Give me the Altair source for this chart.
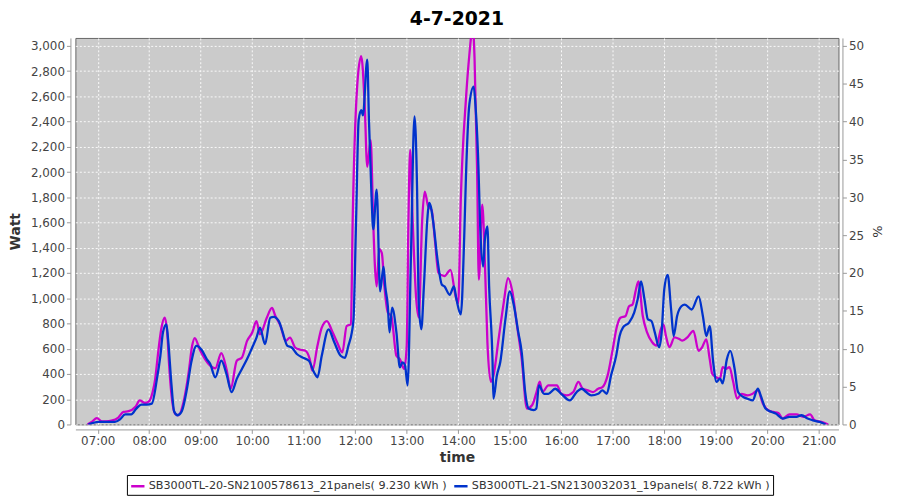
import altair as alt
import pandas as pd

DAY = "2021-07-04"

s1_name = "SB3000TL-20-SN2100578613_21panels( 9.230 kWh )"
s2_name = "SB3000TL-21-SN2130032031_19panels( 8.722 kWh )"

s1_times = ["06:48","06:53","06:59","07:05","07:10","07:16","07:24","07:30","07:36","07:44","07:49","07:55",
            "08:00","08:04","08:07","08:10","08:14","08:18","08:21","08:23","08:26","08:30","08:34","08:40",
            "08:46","08:50","08:53","08:59","09:05","09:11","09:17","09:24","09:30","09:35","09:42","09:48",
            "09:54","10:00","10:05","10:09","10:17","10:23","10:27","10:33","10:39","10:44","10:50","10:56",
            "11:02","11:07","11:10","11:16","11:21","11:27","11:33","11:39","11:45","11:50","11:55","11:57",
            "12:03","12:07","12:11","12:14","12:18","12:21","12:23","12:25","12:28","12:31","12:34","12:38",
            "12:42","12:48","12:52","12:57","13:00","13:02","13:04","13:07","13:11","13:14","13:18","13:21",
            "13:25","13:29","13:33","13:37","13:44","13:51","13:57","14:00","14:03","14:09","14:13","14:17",
            "14:19","14:22","14:24","14:28","14:31","14:34","14:38","14:41","14:47","14:53","14:58","15:03",
            "15:08","15:14","15:20","15:26","15:31","15:35","15:38","15:45","15:55","16:00","16:06","16:14",
            "16:20","16:25","16:31","16:37","16:43","16:48","16:54","17:00","17:05","17:09","17:15","17:19",
            "17:23","17:27","17:30","17:35","17:40","17:46","17:51","17:56","17:59","18:02","18:06","18:12",
            "18:18","18:21","18:27","18:34","18:40","18:44","18:49","18:53","18:56","19:01","19:05","19:08",
            "19:12","19:16","19:20","19:25","19:30","19:37","19:43","19:49","19:55","20:01","20:07","20:13",
            "20:18","20:26","20:34","20:42","20:50","20:55","21:03","21:11"]
s1_watt = [0,20,50,25,25,30,55,100,105,140,190,170,
           185,257,361,544,754,846,728,492,230,86,73,178,
           414,623,685,592,518,466,445,565,440,285,505,530,
           662,728,819,714,846,924,859,780,662,688,610,592,
           584,518,427,623,767,819,741,649,571,780,793,1600,
           2749,2919,2540,2042,2254,1600,1250,1094,1390,1358,1094,887,
           860,544,518,440,623,1618,2175,1600,1000,848,1618,1845,
           1728,1700,1450,1200,1176,1225,1015,960,1782,2578,2932,3150,
           2906,2018,1147,1743,1300,651,338,387,675,964,1160,1055,
           807,518,126,152,250,340,257,309,309,243,230,257,
           337,283,270,257,283,296,387,597,780,846,860,937,
           950,1068,1133,860,730,651,625,754,793,701,612,690,
           675,664,690,741,583,610,675,518,400,373,364,455,
           440,455,348,204,243,230,243,270,165,113,99,90,
           47,80,80,60,80,33,20,0]

s2_times = ["06:49","07:01","07:12","07:20","07:26","07:32","07:39","07:45","07:51","07:57","08:03","08:09",
            "08:13","08:16","08:20","08:22","08:26","08:29","08:33","08:38","08:44","08:49","08:55","09:01",
            "09:07","09:11","09:17","09:24","09:30","09:36","09:42","09:48","09:54","10:00","10:05","10:09",
            "10:15","10:21","10:25","10:31","10:35","10:41","10:46","10:52","10:58","11:06","11:12","11:16",
            "11:21","11:29","11:35","11:43","11:48","11:52","11:56","11:58","12:01","12:04","12:07","12:09",
            "12:14","12:16","12:19","12:21","12:25","12:29","12:33","12:35","12:38","12:40","12:43","12:48",
            "12:52","12:55","12:58","13:01","13:05","13:09","13:12","13:14","13:17","13:20","13:24","13:26",
            "13:28","13:31","13:36","13:41","13:44","13:50","13:55","13:58","14:03","14:07","14:09","14:13",
            "14:18","14:20","14:23","14:26","14:29","14:31","14:34","14:36","14:40","14:41","14:45","14:49",
            "14:55","15:00","15:05","15:10","15:14","15:18","15:22","15:28","15:31","15:34","15:40","15:45",
            "15:53","16:00","16:10","16:18","16:24","16:29","16:35","16:43","16:48","16:53","16:58","17:04",
            "17:08","17:12","17:19","17:25","17:29","17:33","17:37","17:41","17:45","17:49","17:54","17:57",
            "18:00","18:04","18:08","18:11","18:15","18:20","18:24","18:32","18:40","18:45","18:49","18:53",
            "18:57","19:01","19:05","19:08","19:13","19:17","19:22","19:26","19:32","19:37","19:43","19:49",
            "19:53","19:58","20:05","20:10","20:18","20:26","20:34","20:40","20:47","20:53","21:01","21:08"]
s2_watt = [0,20,20,20,40,80,80,126,157,157,165,361,
           544,728,793,675,309,105,73,105,283,492,623,592,
           518,480,374,505,400,257,361,440,518,610,688,767,
           636,846,853,819,741,623,610,558,532,505,414,374,
           544,754,662,544,527,623,728,832,1618,2411,2490,2450,
           2892,2411,1806,1547,1861,1055,1251,1094,937,730,926,730,
           453,492,470,309,1358,2442,1885,964,754,1094,1626,1755,
           1728,1597,1300,1107,1094,1028,1094,990,872,1492,1963,2539,
           2678,2539,2149,1500,1250,1460,1570,1094,495,204,387,495,
           834,1055,937,730,570,257,126,113,126,309,243,243,
           283,243,191,257,283,257,230,243,270,243,387,544,
           701,770,807,887,990,1133,990,832,820,730,612,730,
           1068,1186,911,701,860,937,950,911,1015,860,701,780,
           495,337,364,325,518,583,440,257,218,204,191,283,
           218,126,99,86,47,60,60,73,47,33,20,0]

y_max = 3063
pct_max = y_max / 60.0
y_ticks = list(range(0, 3001, 200))
pct_ticks = list(range(0, 51, 5))
hour_ticks = list(range(7, 22))

df = pd.concat([
    pd.DataFrame({"time": [f"{DAY}T{t}:00" for t in s1_times], "watt": s1_watt, "series": s1_name}),
    pd.DataFrame({"time": [f"{DAY}T{t}:00" for t in s2_times], "watt": s2_watt, "series": s2_name}),
], ignore_index=True)
df["pct"] = df["watt"] / 60.0

x_vals = [alt.DateTime(year=2021, month=7, date=4, hours=h) for h in hour_ticks]

x_enc = alt.X("time:T", title="time",
              scale=alt.Scale(domain=[alt.DateTime(year=2021, month=7, date=4, hours=6, minutes=34),
                                      alt.DateTime(year=2021, month=7, date=4, hours=21, minutes=23)]),
              axis=alt.Axis(format="%H:%M", values=x_vals, offset=5, labelFlush=False,
                            titlePadding=4))

lines = alt.Chart(df).mark_line(strokeWidth=2.3, interpolate="monotone", clip=True).encode(
    x=x_enc,
    y=alt.Y("watt:Q", title="Watt", scale=alt.Scale(domain=[0, y_max], nice=False),
            axis=alt.Axis(values=y_ticks, format=",d", offset=5, titlePadding=8)),
    color=alt.Color("series:N",
                    scale=alt.Scale(domain=[s1_name, s2_name], range=["#cc00cc", "#0033cc"]),
                    legend=alt.Legend(title=None, orient="none", legendX=52, legendY=441,
                                      direction="horizontal", labelLimit=0,
                                      symbolType="stroke", symbolStrokeWidth=2.5, symbolSize=180,
                                      labelFontSize=11.3, labelFont="DejaVu Sans", labelColor="#333333",
                                      strokeColor="black", fillColor="white", padding=3,
                                      columnPadding=2, labelOffset=3)),
)

ghost = alt.Chart(df).mark_line(opacity=0, clip=True).encode(
    x=alt.X("time:T"),
    y=alt.Y("pct:Q", title="%", scale=alt.Scale(domain=[0, pct_max], nice=False),
            axis=alt.Axis(orient="right", values=pct_ticks, grid=False, offset=4,
                          titleAngle=90, titlePadding=6, titleFontSize=13,
                          titleFontWeight="normal")),
)

chart = alt.layer(lines, ghost).resolve_scale(y="independent").properties(
    width=770, height=390,
    title=alt.TitleParams("4-7-2021", fontSize=19, font="DejaVu Sans", fontWeight="bold",
                          color="black", anchor="middle", offset=9),
    autosize=alt.AutoSizeParams(type="none"),
    padding={"left": 68, "top": 28, "right": 54, "bottom": 74},
).configure_view(
    fill="#cbcbcb", stroke="#666666", strokeWidth=1
).configure_axis(
    labelFont="DejaVu Sans", labelFontSize=12, labelColor="#444444",
    titleFont="DejaVu Sans", titleFontSize=14, titleFontWeight="bold", titleColor="#333333",
    gridColor="white", gridDash=[2, 2], gridOpacity=0.9, gridWidth=1,
    domainColor="#999999", tickColor="#999999", tickSize=4
)

chart.save("out.html", embed_options={"renderer": "svg", "actions": False})
